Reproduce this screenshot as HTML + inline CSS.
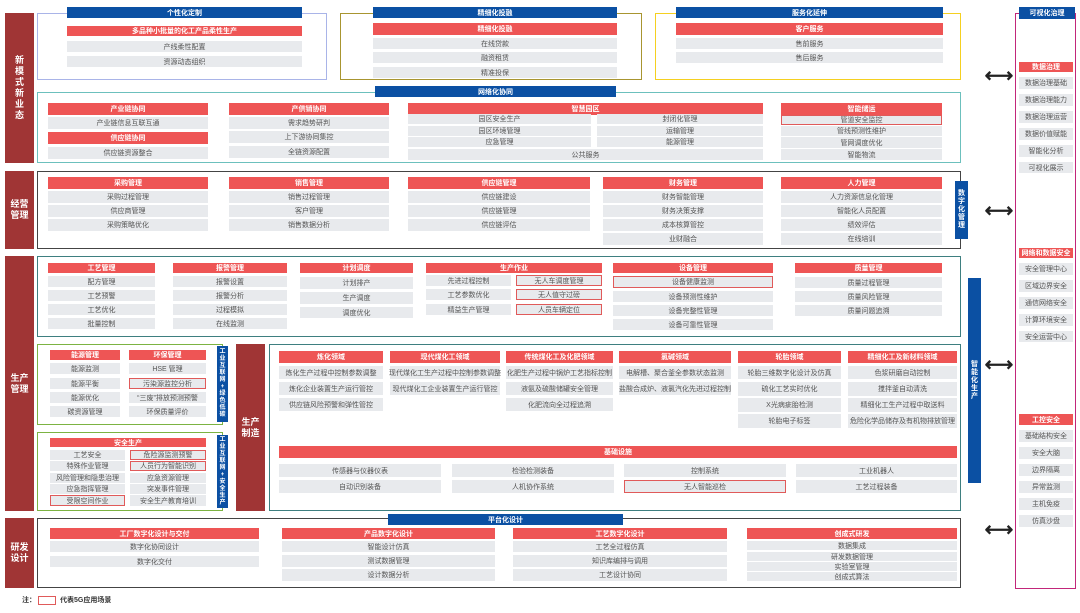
<!DOCTYPE html>
<html><head><meta charset="utf-8">
<style>
*{margin:0;padding:0;box-sizing:border-box}
body{width:1080px;height:613px;background:#fff;position:relative;overflow:hidden;font-family:"Liberation Sans","Noto Sans CJK SC",sans-serif;font-size:7px;color:#555}
div{position:absolute}
.c{display:flex;align-items:center;justify-content:center;white-space:nowrap;text-align:center}
.r{background:#ee5555;color:#fff;font-weight:bold}
.g{background:#e8eaed}
.o{background:#e8eaed;border:1px solid #e05a5a}
.b{background:#0b50a3;color:#fff;font-weight:bold}
.L{background:#a03535;color:#fff;font-weight:bold;font-size:9px;line-height:11px;display:flex;align-items:center;justify-content:center;text-align:center}
.V{background:#0b50a3;color:#fff;font-weight:bold;font-size:7px;line-height:8px;display:flex;align-items:center;justify-content:center;text-align:center;width:11px}
.box{border:1.5px solid #444}
.ar{font-size:20px;color:#222;line-height:12px;width:30px;text-align:center;font-weight:bold}
</style></head><body>

<!-- left labels -->
<div class="L" style="left:5px;top:13px;width:29px;height:150px">新<br>模<br>式<br>新<br>业<br>态</div>
<div class="L" style="left:5px;top:171px;width:29px;height:78px">经营<br>管理</div>
<div class="L" style="left:5px;top:256px;width:29px;height:255px">生产<br>管理</div>
<div class="L" style="left:5px;top:518px;width:29px;height:70px">研发<br>设计</div>

<!-- section 1 -->
<div class="box" style="left:37px;top:13px;width:290px;height:67px;border-color:#a9b4e8"></div>
<div class="c b" style="left:67px;top:7px;width:235px;height:11px">个性化定制</div>
<div class="c r" style="left:67px;top:26px;width:235px;height:10px">多品种小批量的化工产品柔性生产</div>
<div class="c g" style="left:67px;top:41px;width:235px;height:11px">产线柔性配置</div>
<div class="c g" style="left:67px;top:56px;width:235px;height:11px">资源动态组织</div>

<div class="box" style="left:340px;top:13px;width:302px;height:67px;border-color:#a89530"></div>
<div class="c b" style="left:373px;top:7px;width:244px;height:11px">精细化投融</div>
<div class="c r" style="left:373px;top:23px;width:244px;height:12px">精细化投融</div>
<div class="c g" style="left:373px;top:38px;width:244px;height:11px">在线贷款</div>
<div class="c g" style="left:373px;top:52px;width:244px;height:11px">融资租赁</div>
<div class="c g" style="left:373px;top:67px;width:244px;height:11px">精准投保</div>

<div class="box" style="left:655px;top:13px;width:306px;height:67px;border-color:#f5d020"></div>
<div class="c b" style="left:676px;top:7px;width:267px;height:11px">服务化延伸</div>
<div class="c r" style="left:676px;top:23px;width:267px;height:12px">客户服务</div>
<div class="c g" style="left:676px;top:38px;width:267px;height:11px">售前服务</div>
<div class="c g" style="left:676px;top:52px;width:267px;height:11px">售后服务</div>

<div class="box" style="left:37px;top:92px;width:924px;height:71px;border-color:#6cc0bd"></div>
<div class="c b" style="left:375px;top:86px;width:241px;height:11px">网络化协同</div>
<div class="c r" style="left:48px;top:103px;width:160px;height:12px">产业链协同</div>
<div class="c g" style="left:48px;top:117px;width:160px;height:12px">产业链信息互联互通</div>
<div class="c r" style="left:48px;top:132px;width:160px;height:12px">供应链协同</div>
<div class="c g" style="left:48px;top:147px;width:160px;height:12px">供应链资源整合</div>
<div class="c r" style="left:229px;top:103px;width:160px;height:12px">产供销协同</div>
<div class="c g" style="left:229px;top:117px;width:160px;height:12px">需求趋势研判</div>
<div class="c g" style="left:229px;top:131px;width:160px;height:12px">上下游协同集控</div>
<div class="c g" style="left:229px;top:146px;width:160px;height:12px">全链资源配置</div>
<div class="c r" style="left:408px;top:103px;width:355px;height:12px">智慧园区</div>
<div class="c g" style="left:408px;top:114px;width:183px;height:10px">园区安全生产</div>
<div class="c g" style="left:597px;top:114px;width:166px;height:10px">封闭化管理</div>
<div class="c g" style="left:408px;top:126px;width:183px;height:10px">园区环境管理</div>
<div class="c g" style="left:597px;top:126px;width:166px;height:10px">运输管理</div>
<div class="c g" style="left:408px;top:137px;width:183px;height:10px">应急管理</div>
<div class="c g" style="left:597px;top:137px;width:166px;height:10px">能源管理</div>
<div class="c g" style="left:408px;top:149px;width:355px;height:11px">公共服务</div>
<div class="c r" style="left:781px;top:103px;width:161px;height:12px">智能储运</div>
<div class="c o" style="left:781px;top:115px;width:161px;height:10px">管道安全监控</div>
<div class="c g" style="left:781px;top:126px;width:161px;height:10px">管线预测性维护</div>
<div class="c g" style="left:781px;top:137px;width:161px;height:11px">管网调度优化</div>
<div class="c g" style="left:781px;top:149px;width:161px;height:11px">智能物流</div>

<!-- section 2 -->
<div class="box" style="left:37px;top:171px;width:924px;height:78px"></div>
<div class="c r" style="left:48px;top:177px;width:160px;height:12px">采购管理</div>
<div class="c g" style="left:48px;top:191px;width:160px;height:12px">采购过程管理</div>
<div class="c g" style="left:48px;top:205px;width:160px;height:12px">供应商管理</div>
<div class="c g" style="left:48px;top:219px;width:160px;height:12px">采购策略优化</div>
<div class="c r" style="left:229px;top:177px;width:160px;height:12px">销售管理</div>
<div class="c g" style="left:229px;top:191px;width:160px;height:12px">销售过程管理</div>
<div class="c g" style="left:229px;top:205px;width:160px;height:12px">客户管理</div>
<div class="c g" style="left:229px;top:219px;width:160px;height:12px">销售数据分析</div>
<div class="c r" style="left:408px;top:177px;width:182px;height:12px">供应链管理</div>
<div class="c g" style="left:408px;top:191px;width:182px;height:12px">供应链建设</div>
<div class="c g" style="left:408px;top:205px;width:182px;height:12px">供应链管理</div>
<div class="c g" style="left:408px;top:219px;width:182px;height:12px">供应链评估</div>
<div class="c r" style="left:603px;top:177px;width:160px;height:12px">财务管理</div>
<div class="c g" style="left:603px;top:191px;width:160px;height:12px">财务智能管理</div>
<div class="c g" style="left:603px;top:205px;width:160px;height:12px">财务决策支撑</div>
<div class="c g" style="left:603px;top:219px;width:160px;height:12px">成本核算管控</div>
<div class="c g" style="left:603px;top:233px;width:160px;height:12px">业财融合</div>
<div class="c r" style="left:781px;top:177px;width:161px;height:12px">人力管理</div>
<div class="c g" style="left:781px;top:191px;width:161px;height:12px">人力资源信息化管理</div>
<div class="c g" style="left:781px;top:205px;width:161px;height:12px">智能化人员配置</div>
<div class="c g" style="left:781px;top:219px;width:161px;height:12px">绩效评估</div>
<div class="c g" style="left:781px;top:233px;width:161px;height:12px">在线培训</div>
<div class="V" style="left:955px;top:181px;height:58px;width:13px">数<br>字<br>化<br>管<br>理</div>

<!-- section 3 top -->
<div class="box" style="left:37px;top:256px;width:924px;height:81px;border-color:#3e7f80"></div>
<div class="c r" style="left:48px;top:263px;width:107px;height:10px">工艺管理</div>
<div class="c g" style="left:48px;top:276px;width:107px;height:11px">配方管理</div>
<div class="c g" style="left:48px;top:290px;width:107px;height:11px">工艺预警</div>
<div class="c g" style="left:48px;top:304px;width:107px;height:11px">工艺优化</div>
<div class="c g" style="left:48px;top:318px;width:107px;height:11px">批量控制</div>
<div class="c r" style="left:173px;top:263px;width:114px;height:10px">报警管理</div>
<div class="c g" style="left:173px;top:276px;width:114px;height:11px">报警设置</div>
<div class="c g" style="left:173px;top:290px;width:114px;height:11px">报警分析</div>
<div class="c g" style="left:173px;top:304px;width:114px;height:11px">过程模拟</div>
<div class="c g" style="left:173px;top:318px;width:114px;height:11px">在线监测</div>
<div class="c r" style="left:300px;top:263px;width:113px;height:10px">计划调度</div>
<div class="c g" style="left:300px;top:277px;width:113px;height:12px">计划排产</div>
<div class="c g" style="left:300px;top:292px;width:113px;height:12px">生产调度</div>
<div class="c g" style="left:300px;top:307px;width:113px;height:11px">调度优化</div>
<div class="c r" style="left:426px;top:263px;width:176px;height:10px">生产作业</div>
<div class="c g" style="left:426px;top:275px;width:85px;height:11px">先进过程控制</div>
<div class="c g" style="left:426px;top:289px;width:85px;height:11px">工艺参数优化</div>
<div class="c g" style="left:426px;top:304px;width:85px;height:11px">精益生产管理</div>
<div class="c o" style="left:516px;top:275px;width:86px;height:11px">无人车调度管理</div>
<div class="c o" style="left:516px;top:289px;width:86px;height:11px">无人值守过磅</div>
<div class="c o" style="left:516px;top:304px;width:86px;height:11px">人员车辆定位</div>
<div class="c r" style="left:613px;top:263px;width:160px;height:10px">设备管理</div>
<div class="c o" style="left:613px;top:276px;width:160px;height:12px">设备健康监测</div>
<div class="c g" style="left:613px;top:291px;width:160px;height:11px">设备预测性维护</div>
<div class="c g" style="left:613px;top:305px;width:160px;height:11px">设备完整性管理</div>
<div class="c g" style="left:613px;top:319px;width:160px;height:11px">设备可靠性管理</div>
<div class="c r" style="left:795px;top:263px;width:147px;height:10px">质量管理</div>
<div class="c g" style="left:795px;top:277px;width:147px;height:11px">质量过程管理</div>
<div class="c g" style="left:795px;top:291px;width:147px;height:11px">质量风险管理</div>
<div class="c g" style="left:795px;top:305px;width:147px;height:11px">质量问题追溯</div>

<!-- energy/env -->
<div class="box" style="left:37px;top:344px;width:186px;height:81px;border-color:#7cb342"></div>
<div class="c r" style="left:50px;top:350px;width:70px;height:10px">能源管理</div>
<div class="c r" style="left:129px;top:350px;width:77px;height:10px">环保管理</div>
<div class="c g" style="left:50px;top:363px;width:70px;height:11px">能源监测</div>
<div class="c g" style="left:50px;top:378px;width:70px;height:11px">能源平衡</div>
<div class="c g" style="left:50px;top:392px;width:70px;height:11px">能源优化</div>
<div class="c g" style="left:50px;top:406px;width:70px;height:11px">碳资源管理</div>
<div class="c g" style="left:129px;top:363px;width:77px;height:11px">HSE 管理</div>
<div class="c o" style="left:129px;top:378px;width:77px;height:11px">污染源监控分析</div>
<div class="c g" style="left:129px;top:392px;width:77px;height:11px">“三废”排放预测预警</div>
<div class="c g" style="left:129px;top:406px;width:77px;height:11px">环保质量评价</div>
<div class="V" style="left:217px;top:346px;height:76px;font-size:6px;line-height:7px">工<br>业<br>互<br>联<br>网<br>+<br>绿<br>色<br>低<br>碳</div>

<div class="box" style="left:37px;top:432px;width:186px;height:79px;border-color:#7cb342"></div>
<div class="c r" style="left:50px;top:438px;width:156px;height:9px">安全生产</div>
<div class="c g" style="left:50px;top:450px;width:75px;height:10px">工艺安全</div>
<div class="c g" style="left:50px;top:461px;width:75px;height:10px">特殊作业管理</div>
<div class="c g" style="left:50px;top:473px;width:75px;height:10px">风险管理和隐患治理</div>
<div class="c g" style="left:50px;top:484px;width:75px;height:10px">应急指挥管理</div>
<div class="c o" style="left:50px;top:495px;width:75px;height:11px">受限空间作业</div>
<div class="c o" style="left:130px;top:450px;width:76px;height:10px">危险源监测预警</div>
<div class="c o" style="left:130px;top:461px;width:76px;height:10px">人员行为智能识别</div>
<div class="c g" style="left:130px;top:473px;width:76px;height:10px">应急资源管理</div>
<div class="c g" style="left:130px;top:484px;width:76px;height:10px">突发事件管理</div>
<div class="c g" style="left:130px;top:495px;width:76px;height:11px">安全生产教育培训</div>
<div class="V" style="left:217px;top:435px;height:73px;font-size:6px;line-height:7px">工<br>业<br>互<br>联<br>网<br>+<br>安<br>全<br>生<br>产</div>

<div class="L" style="left:236px;top:344px;width:29px;height:167px">生产<br>制造</div>

<div class="box" style="left:269px;top:344px;width:692px;height:167px;border-color:#3e7f80"></div>
<div class="c r" style="left:279px;top:351px;width:104px;height:12px">炼化领域</div>
<div class="c g" style="left:279px;top:366px;width:104px;height:13px">炼化生产过程中控制参数调整</div>
<div class="c g" style="left:279px;top:382px;width:104px;height:13px">炼化企业装置生产运行管控</div>
<div class="c g" style="left:279px;top:398px;width:104px;height:13px">供应链风险预警和弹性管控</div>
<div class="c r" style="left:390px;top:351px;width:110px;height:12px">现代煤化工领域</div>
<div class="c g" style="left:390px;top:366px;width:110px;height:13px">现代煤化工生产过程中控制参数调整</div>
<div class="c g" style="left:390px;top:382px;width:110px;height:13px">现代煤化工企业装置生产运行管控</div>
<div class="c r" style="left:506px;top:351px;width:107px;height:12px">传统煤化工及化肥领域</div>
<div class="c g" style="left:506px;top:366px;width:107px;height:13px">化肥生产过程中锅炉工艺指标控制</div>
<div class="c g" style="left:506px;top:382px;width:107px;height:13px">液氨及硫酸储罐安全管理</div>
<div class="c g" style="left:506px;top:398px;width:107px;height:13px">化肥流向全过程追溯</div>
<div class="c r" style="left:619px;top:351px;width:112px;height:12px">氯碱领域</div>
<div class="c g" style="left:619px;top:366px;width:112px;height:13px">电解槽、聚合釜全参数状态监测</div>
<div class="c g" style="left:619px;top:382px;width:112px;height:13px">盐酸合成炉、液氯汽化先进过程控制</div>
<div class="c r" style="left:738px;top:351px;width:103px;height:12px">轮胎领域</div>
<div class="c g" style="left:738px;top:366px;width:103px;height:13px">轮胎三维数字化设计及仿真</div>
<div class="c g" style="left:738px;top:382px;width:103px;height:14px">硫化工艺实时优化</div>
<div class="c g" style="left:738px;top:398px;width:103px;height:14px">X光病疵胎检测</div>
<div class="c g" style="left:738px;top:414px;width:103px;height:14px">轮胎电子标签</div>
<div class="c r" style="left:848px;top:351px;width:109px;height:12px">精细化工及新材料领域</div>
<div class="c g" style="left:848px;top:366px;width:109px;height:13px">色浆研磨自动控制</div>
<div class="c g" style="left:848px;top:382px;width:109px;height:14px">搅拌釜自动清洗</div>
<div class="c g" style="left:848px;top:398px;width:109px;height:14px">精细化工生产过程中取送料</div>
<div class="c g" style="left:848px;top:414px;width:109px;height:14px">危险化学品储存及有机物排放管理</div>
<div class="c r" style="left:279px;top:446px;width:678px;height:12px">基础设施</div>
<div class="c g" style="left:279px;top:464px;width:162px;height:13px">传感器与仪器仪表</div>
<div class="c g" style="left:279px;top:480px;width:162px;height:13px">自动识别装备</div>
<div class="c g" style="left:452px;top:464px;width:162px;height:13px">检验检测装备</div>
<div class="c g" style="left:452px;top:480px;width:162px;height:13px">人机协作系统</div>
<div class="c g" style="left:624px;top:464px;width:162px;height:13px">控制系统</div>
<div class="c o" style="left:624px;top:480px;width:162px;height:13px">无人智能巡检</div>
<div class="c g" style="left:796px;top:464px;width:161px;height:13px">工业机器人</div>
<div class="c g" style="left:796px;top:480px;width:161px;height:13px">工艺过程装备</div>
<div class="V" style="left:968px;top:278px;height:205px;width:13px">智<br>能<br>化<br>生<br>产</div>

<!-- section 4 -->
<div class="box" style="left:37px;top:518px;width:924px;height:70px"></div>
<div class="c b" style="left:388px;top:514px;width:235px;height:11px">平台化设计</div>
<div class="c r" style="left:50px;top:528px;width:209px;height:11px">工厂数字化设计与交付</div>
<div class="c g" style="left:50px;top:541px;width:209px;height:11px">数字化协同设计</div>
<div class="c g" style="left:50px;top:556px;width:209px;height:11px">数字化交付</div>
<div class="c r" style="left:282px;top:528px;width:213px;height:11px">产品数字化设计</div>
<div class="c g" style="left:282px;top:541px;width:213px;height:11px">智能设计仿真</div>
<div class="c g" style="left:282px;top:555px;width:213px;height:12px">测试数据管理</div>
<div class="c g" style="left:282px;top:569px;width:213px;height:12px">设计数据分析</div>
<div class="c r" style="left:513px;top:528px;width:214px;height:11px">工艺数字化设计</div>
<div class="c g" style="left:513px;top:541px;width:214px;height:11px">工艺全过程仿真</div>
<div class="c g" style="left:513px;top:555px;width:214px;height:12px">知识库编排与调用</div>
<div class="c g" style="left:513px;top:569px;width:214px;height:12px">工艺设计协同</div>
<div class="c r" style="left:747px;top:528px;width:210px;height:11px">创成式研发</div>
<div class="c g" style="left:747px;top:541px;width:210px;height:9px">数据集成</div>
<div class="c g" style="left:747px;top:552px;width:210px;height:9px">研发数据管理</div>
<div class="c g" style="left:747px;top:562px;width:210px;height:9px">实验室管理</div>
<div class="c g" style="left:747px;top:572px;width:210px;height:9px">创成式算法</div>

<!-- arrows -->
<div class="ar" style="left:984px;top:70px">⟷</div>
<div class="ar" style="left:984px;top:205px">⟷</div>
<div class="ar" style="left:984px;top:359px">⟷</div>
<div class="ar" style="left:984px;top:524px">⟷</div>

<!-- right panel -->
<div class="box" style="left:1015px;top:13px;width:61px;height:576px;border-color:#c2267a"></div>
<div class="c b" style="left:1019px;top:7px;width:56px;height:12px">可视化治理</div>
<div class="c r" style="left:1019px;top:62px;width:54px;height:10px">数据治理</div>
<div class="c g" style="left:1019px;top:77px;width:54px;height:12px">数据治理基础</div>
<div class="c g" style="left:1019px;top:94px;width:54px;height:12px">数据治理能力</div>
<div class="c g" style="left:1019px;top:111px;width:54px;height:12px">数据治理运营</div>
<div class="c g" style="left:1019px;top:128px;width:54px;height:12px">数据价值赋能</div>
<div class="c g" style="left:1019px;top:145px;width:54px;height:12px">智能化分析</div>
<div class="c g" style="left:1019px;top:162px;width:54px;height:11px">可视化展示</div>
<div class="c r" style="left:1019px;top:248px;width:54px;height:10px">网络和数据安全</div>
<div class="c g" style="left:1019px;top:263px;width:54px;height:12px">安全管理中心</div>
<div class="c g" style="left:1019px;top:280px;width:54px;height:12px">区域边界安全</div>
<div class="c g" style="left:1019px;top:297px;width:54px;height:12px">通信网络安全</div>
<div class="c g" style="left:1019px;top:314px;width:54px;height:12px">计算环境安全</div>
<div class="c g" style="left:1019px;top:331px;width:54px;height:11px">安全运营中心</div>
<div class="c r" style="left:1019px;top:414px;width:54px;height:11px">工控安全</div>
<div class="c g" style="left:1019px;top:430px;width:54px;height:12px">基础结构安全</div>
<div class="c g" style="left:1019px;top:447px;width:54px;height:12px">安全大脑</div>
<div class="c g" style="left:1019px;top:464px;width:54px;height:12px">边界隔离</div>
<div class="c g" style="left:1019px;top:481px;width:54px;height:12px">异常监测</div>
<div class="c g" style="left:1019px;top:498px;width:54px;height:12px">主机免疫</div>
<div class="c g" style="left:1019px;top:515px;width:54px;height:12px">仿真沙盘</div>

<!-- note -->
<div style="left:22px;top:595px;font-weight:bold;color:#333">注：</div>
<div style="left:38px;top:596px;width:18px;height:9px;border:1px solid #e05a5a"></div>
<div style="left:60px;top:595px;font-weight:bold;color:#333">代表5G应用场景</div>
</body></html>
